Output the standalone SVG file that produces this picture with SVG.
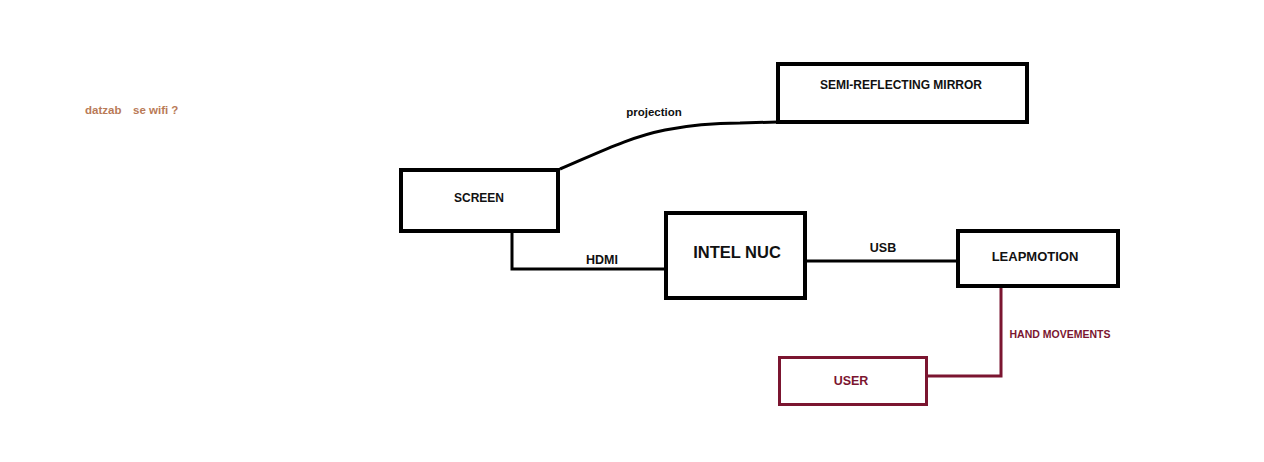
<svg xmlns="http://www.w3.org/2000/svg" width="1264" height="462" viewBox="0 0 1264 462">
<style>
text{font-family:"Liberation Sans",Arial,sans-serif;font-weight:bold;text-anchor:middle;fill:#111}
.box{fill:#fff;stroke:#000;stroke-width:4}
.ubox{fill:#fff;stroke:#7b1530;stroke-width:3}
.wire{fill:none;stroke:#000;stroke-width:3}
.mwire{fill:none;stroke:#7b1530;stroke-width:3}
.m{fill:#7b1530}
.note{fill:#b97a57;text-anchor:start;font-size:11.5px}
</style>
<rect width="1264" height="462" fill="#fff"/>
<g id="connectors">
<path class="wire" d="M560,169 C600,152 630,137 665,130 C690,125 710,123 740,123 L778,122"/>
<path class="wire" d="M512,233 V269 H664"/>
<path class="wire" d="M807,261 H956"/>
<path class="mwire" d="M1001,288 V376 H928"/>
<text x="654" y="116" font-size="11.5">projection</text>
<text x="602" y="264" font-size="12.5">HDMI</text>
<text x="883" y="252" font-size="12.5">USB</text>
<text class="m" x="1060" y="338" font-size="10.5">HAND MOVEMENTS</text>
</g>
<g id="screen">
<rect class="box" x="401" y="170" width="157" height="61"/>
<text x="479" y="202" font-size="12">SCREEN</text>
</g>
<g id="mirror">
<rect class="box" x="778" y="64" width="249" height="58"/>
<text x="901" y="89" font-size="12">SEMI-REFLECTING MIRROR</text>
</g>
<g id="nuc">
<rect class="box" x="666" y="213" width="139" height="85"/>
<text x="737" y="258" font-size="16.5">INTEL NUC</text>
</g>
<g id="leapmotion">
<rect class="box" x="958" y="231" width="160" height="55"/>
<text x="1035" y="261" font-size="13">LEAPMOTION</text>
</g>
<g id="user">
<rect class="ubox" x="779.5" y="357.5" width="147" height="47"/>
<text class="m" x="851" y="385" font-size="12.5">USER</text>
</g>
<g id="note">
<text class="note" x="85" y="114">datzab</text>
<text class="note" x="133" y="114">se wifi ?</text>
</g>
</svg>
